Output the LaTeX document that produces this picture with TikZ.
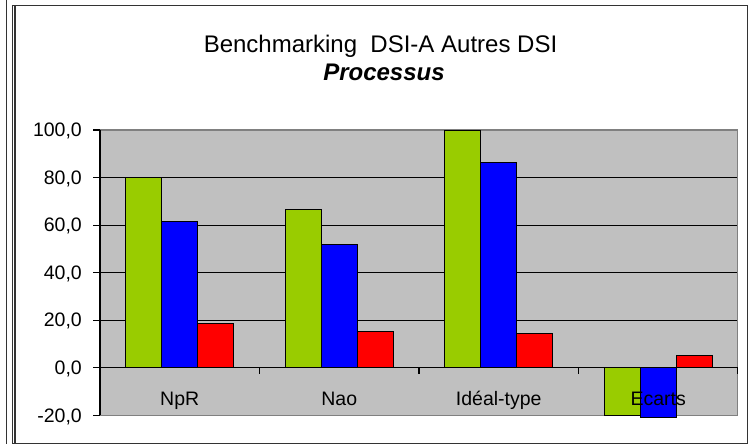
\documentclass[tikz,border=0pt]{standalone}
\usepackage{fontspec}
\setmainfont{Liberation Sans}
\definecolor{barGreen}{HTML}{99CC00}
\definecolor{barBlue}{HTML}{0000FF}
\definecolor{barRed}{HTML}{FF0000}
\definecolor{plotGray}{HTML}{C0C0C0}
\definecolor{edgeGray}{HTML}{808080}
\begin{document}
\begin{tikzpicture}[x=1pt,y=-1pt,
  frameline/.style={draw=black!80, line width=1.2pt},
  gridline/.style={draw=black, line width=0.9pt},
  axisline/.style={draw=black, line width=1.1pt},
  barbox/.style={draw=black, line width=0.9pt},
  ticklabel/.style={font=\fontsize{19.5}{20}\selectfont, inner sep=0pt, anchor=base east},
  catlabel/.style={font=\fontsize{19.5}{20}\selectfont, inner sep=0pt, anchor=base},
  titletext/.style={font=\fontsize{24}{26}\selectfont, inner sep=0pt, anchor=base}]
\useasboundingbox (0,0) rectangle (753,444);

% value -> vertical position: 0 at 367.7, 100 at 130
\def\yz{367.7}
\def\ys{2.377}

% outer frames
\draw[frameline] (6.5,0) -- (6.5,444);
\draw[frameline] (12.5,5.5) rectangle (747.5,443.2);
\draw[frameline] (15,5.5) -- (15,443.2);

% title
\node[titletext] (title1) at (380.5,53) {Benchmarking\ \ DSI-A Autres DSI};
\node[titletext, font=\fontsize{24}{26}\selectfont\bfseries\itshape] (title2) at (384,80.5) {Processus};

% plot area
\fill[plotGray] (100,130) rectangle (737.7,415.2);
\foreach \v in {20,40,60,80}
  \draw[gridline] (100,{\yz-\ys*\v}) -- (737.7,{\yz-\ys*\v});
\draw[draw=edgeGray, line width=1.2pt] (100,130) -- (737.7,130) -- (737.7,415.2) -- (100,415.2);

% bars: DSI-A (green), autres DSI (blue), ecarts (red)
\foreach \i/\g/\b/\r in {0/80/61.5/18.5, 1/66.7/51.7/15.1, 2/100/86.2/14.5, 3/-20/-20.9/5.3} {
  \pgfmathsetmacro\xa{100+159.5*\i+25.5}
  \draw[barbox, fill=barGreen] (\xa,\yz) rectangle ({\xa+36},{\yz-\ys*\g});
  \draw[barbox, fill=barBlue] ({\xa+36},\yz) rectangle ({\xa+72},{\yz-\ys*\b});
  \draw[barbox, fill=barRed] ({\xa+72},\yz) rectangle ({\xa+108},{\yz-\ys*\r});
}

% axes and ticks
\draw[axisline] (100,130) -- (100,415.2);
\foreach \v in {-20,0,...,100}
  \draw[axisline] (93,{\yz-\ys*\v}) -- (100,{\yz-\ys*\v});
\draw[axisline] (100,\yz) -- (737.7,\yz);
\foreach \x in {259.5,419,578.5,737.7}
  \draw[axisline] (\x,\yz) -- (\x,{\yz+6});

% value labels
\foreach \v/\t in {-20/{-20,0}, 0/{0,0}, 20/{20,0}, 40/{40,0}, 60/{60,0}, 80/{80,0}, 100/{100,0}}
  \node[ticklabel] (yl\v) at (82,{\yz-\ys*\v+6.8}) {\t};

% category labels
\node[catlabel] (catA) at (179.75,405) {NpR};
\node[catlabel] (catB) at (339.25,405) {Nao};
\node[catlabel] (catC) at (498.75,405) {Idéal-type};
\node[catlabel] (catD) at (658.25,405) {Ecarts};
\end{tikzpicture}
\end{document}
